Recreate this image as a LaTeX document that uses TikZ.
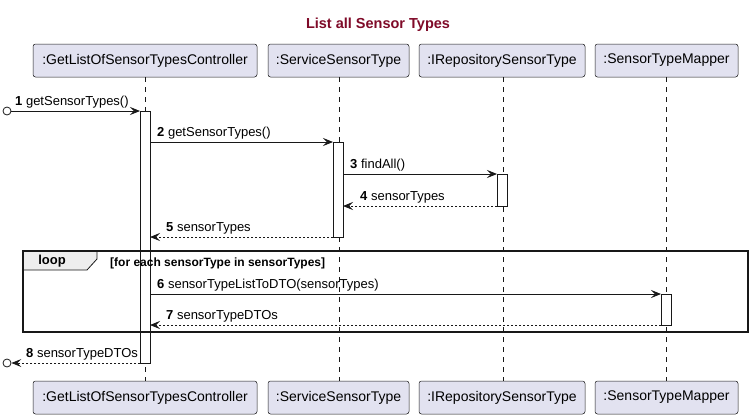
\documentclass[tikz,border=0pt]{standalone}
\usepackage{fontspec}
\setmainfont{Liberation Sans}
\usetikzlibrary{arrows.meta}
\definecolor{partfill}{HTML}{E2E2F0}
\definecolor{ink}{HTML}{181818}
\definecolor{titlered}{HTML}{7F0A28}
\definecolor{tabfill}{HTML}{EEEEEE}
\tikzset{
  part/.style={draw=ink, fill=partfill, rounded corners=2.5pt, line width=0.5pt,
    minimum height=33pt, inner sep=0pt, font=\fontsize{14}{16}\selectfont},
  life/.style={draw=ink, line width=0.5pt, dash pattern=on 5pt off 5pt},
  actbox/.style={draw=ink, fill=white, line width=0.8pt, minimum width=10pt, inner sep=0pt, anchor=north},
  msg/.style={draw=ink, line width=0.8pt, -{Stealth[length=10pt,width=8pt,inset=4pt]}},
  ret/.style={msg, dash pattern=on 2pt off 2pt},
  lbl/.style={anchor=base west, inner sep=0pt, font=\fontsize{13}{15}\selectfont},
  endcirc/.style={circle, draw=ink, line width=0.8pt, fill=white, minimum size=8pt, inner sep=0pt}
}
\begin{document}
\begin{tikzpicture}[x=1pt,y=-1pt]
\useasboundingbox (0,0) rectangle (753,418);
% title
\node[font=\fontsize{14.5}{16}\selectfont\bfseries, text=titlered] (title) at (378,25) {List all Sensor Types};
% participants top
\node[part, minimum width=224pt] (p1) at (145,60.5) {:GetListOfSensorTypesController};
\node[part, minimum width=141pt] (p2) at (338.5,60.5) {:ServiceSensorType};
\node[part, minimum width=166pt] (p3) at (502,60.5) {:IRepositorySensorType};
\node[part, minimum width=143pt] (p4) at (666.5,60.5) {:SensorTypeMapper};
% participants bottom
\node[part, minimum width=224pt] (q1) at (145,397.5) {:GetListOfSensorTypesController};
\node[part, minimum width=141pt] (q2) at (338.5,397.5) {:ServiceSensorType};
\node[part, minimum width=166pt] (q3) at (502,397.5) {:IRepositorySensorType};
\node[part, minimum width=143pt] (q4) at (666.5,397.5) {:SensorTypeMapper};
% lifelines
\draw[life] (p1.south) -- (q1.north);
\draw[life] ([xshift=0.5pt]p2.south) -- ([xshift=0.5pt]q2.north);
\draw[life] ([xshift=1pt]p3.south) -- ([xshift=1pt]q3.north);
\draw[life] ([xshift=-0.5pt]p4.south) -- ([xshift=-0.5pt]q4.north);
% loop frame tab
\draw[draw=ink, fill=tabfill, line width=0.8pt] (23,251) -- (97,251) -- (97,259) -- (87,270) -- (23,270) -- cycle;
\node[font=\fontsize{13}{15}\selectfont\bfseries] (looplbl) at (52,261) {loop};
% activations
\node[actbox, minimum height=252pt] (a1) at (145,111) {};
\node[actbox, minimum height=95pt] (a2) at (338,142) {};
\node[actbox, minimum height=32pt] (a3) at (502,174) {};
\node[actbox, minimum height=31pt] (a4) at (666,294) {};
\draw[draw=ink, line width=1.6pt] (23,251) rectangle (748,332);
\node[anchor=base west, inner sep=0pt, font=\fontsize{12}{14}\selectfont\bfseries] (guard) at (110,266) {[for each sensorType in sensorTypes]};
% message endpoints
\node[endcirc] (c1) at (7,111) {};
\node[endcirc] (c8) at (7,363) {};
\coordinate (m2s) at (150,142);
\coordinate (m2e) at (333,142);
\coordinate (m3s) at (343,174);
\coordinate (m3e) at (497,174);
\coordinate (m4s) at (497,206);
\coordinate (m4e) at (343,206);
\coordinate (m5s) at (333,237);
\coordinate (m5e) at (150,237);
\coordinate (m6s) at (150,294);
\coordinate (m6e) at (661,294);
\coordinate (m7s) at (661,325);
\coordinate (m7e) at (150,325);
\coordinate (m1e) at (140,111);
\coordinate (m8s) at (140,363);
% messages
\draw[msg] (c1.east) -- (m1e);
\node[lbl] (l1) at (15,105) {\textbf{1} getSensorTypes()};
\draw[msg] (m2s) -- (m2e);
\node[lbl] (l2) at (157,136) {\textbf{2} getSensorTypes()};
\draw[msg] (m3s) -- (m3e);
\node[lbl] (l3) at (350,168) {\textbf{3} findAll()};
\draw[ret] (m4s) -- (m4e);
\node[lbl] (l4) at (360,200) {\textbf{4} sensorTypes};
\draw[ret] (m5s) -- (m5e);
\node[lbl] (l5) at (166,231) {\textbf{5} sensorTypes};
\draw[msg] (m6s) -- (m6e);
\node[lbl] (l6) at (157,288) {\textbf{6} sensorTypeListToDTO(sensorTypes)};
\draw[ret] (m7s) -- (m7e);
\node[lbl] (l7) at (166,319) {\textbf{7} sensorTypeDTOs};
\draw[ret] (m8s) -- (c8.east);
\node[lbl] (l8) at (26,357) {\textbf{8} sensorTypeDTOs};
\end{tikzpicture}
\end{document}
